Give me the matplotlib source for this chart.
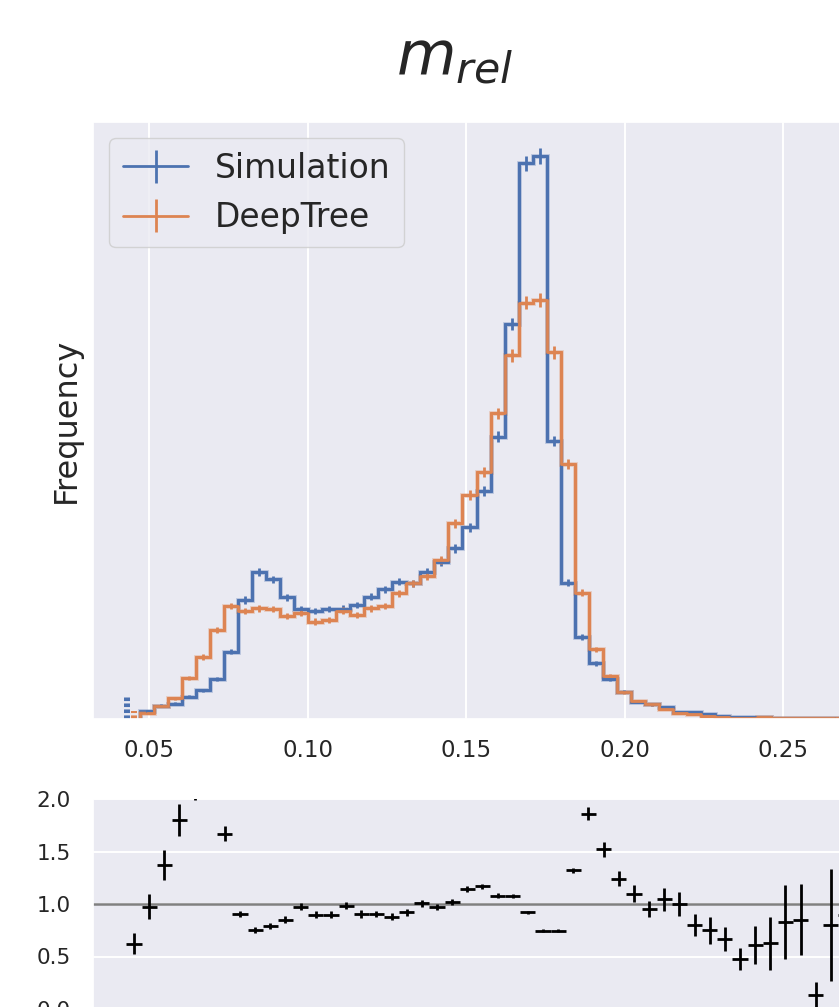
import numpy as np
import matplotlib
matplotlib.use("Agg")
import matplotlib.pyplot as plt
import seaborn as sns

sns.set_theme(style="darkgrid")
plt.rcParams['font.family'] = ['DejaVu Sans']

# ---------------- data ----------------
bin_lo, bin_hi, n_bins = 0.04716, 0.26831, 50
series_labels = ["Simulation", "DeepTree"]
sim_counts = [74, 122, 141, 207, 268, 372, 635, 1126, 1395, 1322,
              1151, 1037, 1021, 1040, 1042, 1078, 1157, 1227, 1300, 1284,
              1389, 1490, 1617, 1816, 2164, 2677, 3748, 5274, 5344, 2636,
              1290, 777, 524, 372, 255, 160, 135, 112, 65, 59,
              43, 24, 14, 11, 13, 9, 5, 3, 2, 2]
deep_counts = [49, 119, 192, 388, 584, 841, 1069, 1021, 1047, 1040,
               974, 1005, 920, 936, 1023, 983, 1047, 1069, 1189, 1284,
               1354, 1506, 1854, 2123, 2345, 2899, 3450, 3950, 3976, 3479,
               2418, 1195, 657, 407, 249, 167, 135, 89, 48, 39,
               21, 14, 9, 9, 11, 1, 4, 2, 2, 1]
ratio = [0.62, 0.975, 1.37, 1.80, 2.20, 2.27, 1.67, 0.905, 0.75, 0.79,
         0.85, 0.975, 0.90, 0.90, 0.985, 0.905, 0.905, 0.88, 0.92, 1.005,
         0.975, 1.02, 1.14, 1.17, 1.08, 1.08, 0.92, 0.746, 0.746, 1.32,
         1.86, 1.52, 1.24, 1.10, 0.955, 1.045, 1.0, 0.80, 0.75, 0.667,
         0.48, 0.61, 0.625, 0.83, 0.85, 0.13, 0.80, 0.90, 0.70, 1.10]
ratio_err = [0.10, 0.116, 0.143, 0.15, 0.21, 0.20, 0.07, 0.033, 0.03, 0.03,
             0.032, 0.035, 0.035, 0.035, 0.035, 0.034, 0.033, 0.032, 0.031, 0.03,
             0.029, 0.028, 0.027, 0.025, 0.022, 0.02, 0.018, 0.016, 0.016, 0.025,
             0.063, 0.068, 0.073, 0.08, 0.075, 0.11, 0.117, 0.106, 0.13, 0.117,
             0.105, 0.184, 0.25, 0.355, 0.34, 0.13, 0.535, 0.6, 0.7, 0.8]
underflow_x = [0.0431, 0.0453]
underflow_h = [215, 70]
xtick_vals = [0.05, 0.10, 0.15, 0.20, 0.25]
rtick_vals = [0.0, 0.5, 1.0, 1.5, 2.0]
title_text = r'$m_{rel}$'
ylabel_text = 'Frequency'

colors = ['#4C72B0', '#DD8452']

# ---------------- layout ----------------
W, H = 839, 1007
fig = plt.figure(figsize=(W / 100, H / 100), dpi=100)


def frac(l, t, r, b):
    return [l / W, 1 - b / H, (r - l) / W, (b - t) / H]


ax = fig.add_axes(frac(93, 122, 877, 718.5))
rax = fig.add_axes(frac(93, 799, 877, 1009))

edges = np.linspace(bin_lo, bin_hi, n_bins + 1)
centers = 0.5 * (edges[:-1] + edges[1:])
w = edges[1] - edges[0]

for counts, col, lab, ux, uh in zip([sim_counts, deep_counts], colors, series_labels,
                                    underflow_x, underflow_h):
    counts = np.asarray(counts, float)
    ax.stairs(counts, edges, color=col, lw=3.4, alpha=0.35, baseline=0)
    ax.stairs(counts, edges, color=col, lw=2.0, baseline=0)
    ax.errorbar(centers, counts, yerr=np.sqrt(counts), fmt='-', drawstyle='steps-mid',
                color=col, lw=2.0, elinewidth=2.0, label=lab)
    ax.plot([ux, ux], [0, uh], color=col, lw=4.3, ls=(0, (0.6, 0.4)), solid_capstyle='butt')

ax.set_xlim(0.03233, 0.27965)
ax.set_ylim(0, 5667)
ax.set_xticks(xtick_vals)
ax.set_xticklabels([f"{v:.2f}" for v in xtick_vals])
ax.set_yticks([])
ax.tick_params(axis='x', labelsize=16.5, length=0, pad=15)
ax.set_ylabel(ylabel_text, fontsize=23, labelpad=8)
ax.grid(True, color='white', lw=1.4)
ax.legend(loc='upper left', fontsize=23.7)

# ratio panel
rax.axhline(1.0, color='gray', lw=1.8, zorder=1.5)
rax.errorbar(centers, ratio, yerr=ratio_err, xerr=w / 2, fmt='none', ecolor='black',
             elinewidth=2.0, zorder=3)
rax.set_xlim(0.037402, 0.26629)
rax.set_ylim(0, 2)
rax.set_xticks([])
rax.set_yticks(rtick_vals)
rax.set_yticklabels([f"{v:.1f}" for v in rtick_vals])
rax.tick_params(axis='y', labelsize=15.5, length=0, pad=16)
rax.grid(True, color='white', lw=1.4)

fig.text(455 / W, 1 - 75 / H, title_text, fontsize=44, ha='center', va='baseline')

fig.savefig('out.png', dpi=100)
